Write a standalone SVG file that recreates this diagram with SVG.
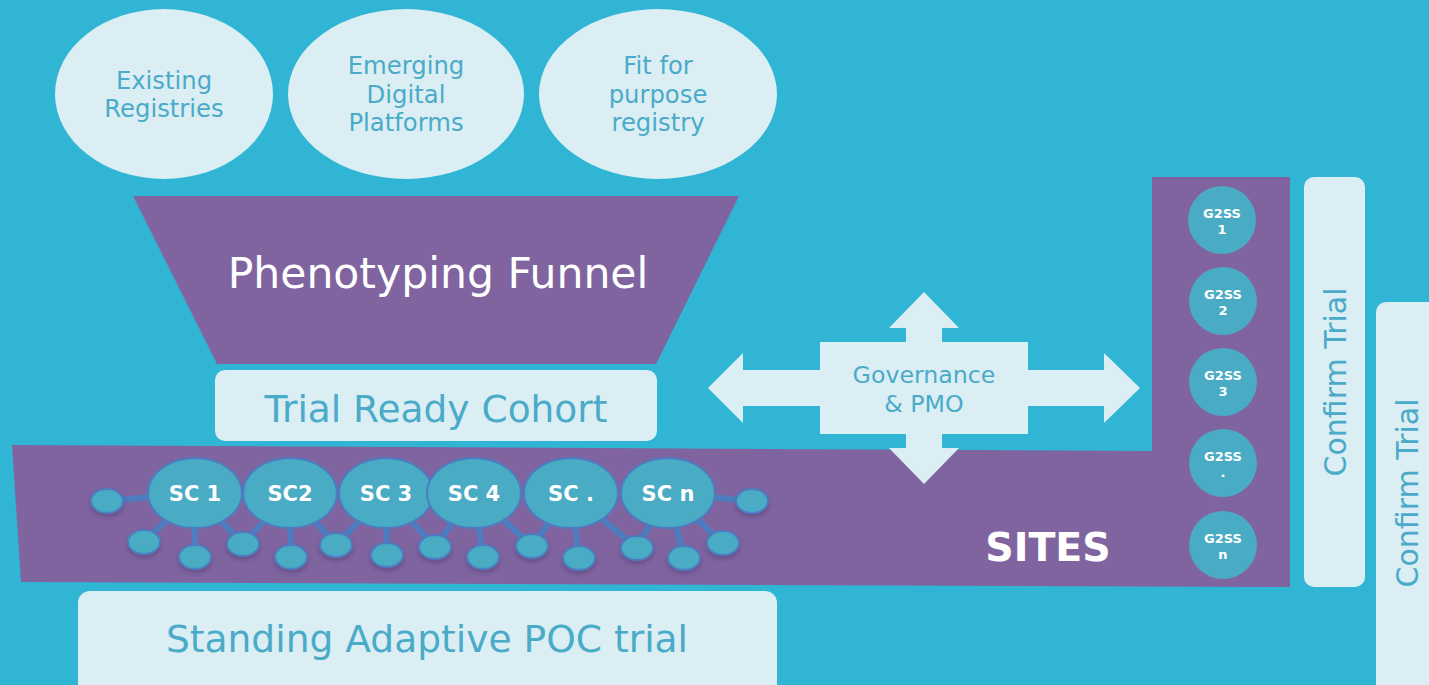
<svg xmlns="http://www.w3.org/2000/svg" width="1429" height="685" viewBox="0 0 1429 685">
<style>
.bg{fill:#30b5d4}
.lt{fill:#dbeef4}
.pu{fill:#7f64a0}
.tl{fill:#4aabc8;font-family:"DejaVu Sans","Liberation Sans",sans-serif;text-anchor:middle}
.tw{fill:#ffffff;font-family:"DejaVu Sans","Liberation Sans",sans-serif;text-anchor:middle}
.b{font-weight:bold}
.sc{fill:#4aabc4;stroke:#4d7cc0;stroke-width:2}
.sm{fill:#4aabc4;stroke:#4d7cc0;stroke-width:2}
.ln{stroke:#4d7cc0;stroke-width:6;fill:none}
.g2{fill:#4aabc4}
</style>
<defs>
<filter id="sh" x="-20%" y="-20%" width="140%" height="160%">
<feDropShadow dx="0" dy="3" stdDeviation="2" flood-color="#3a2a60" flood-opacity="0.35"/>
</filter>
</defs>
<rect class="bg" x="0" y="0" width="1429" height="685"/>

<g id="existing-registries">
<ellipse class="lt" cx="164" cy="94" rx="109" ry="85"/>
<text class="tl" font-size="24.3"><tspan x="164" y="89">Existing</tspan><tspan x="164" y="117">Registries</tspan></text>
</g>
<g id="emerging-platforms">
<ellipse class="lt" cx="406" cy="94" rx="118" ry="85"/>
<text class="tl" font-size="24.3"><tspan x="406" y="74">Emerging</tspan><tspan x="406" y="103">Digital</tspan><tspan x="406" y="131">Platforms</tspan></text>
</g>
<g id="fit-for-purpose">
<ellipse class="lt" cx="658" cy="94" rx="119" ry="85"/>
<text class="tl" font-size="24.3"><tspan x="658" y="74">Fit for</tspan><tspan x="658" y="103">purpose</tspan><tspan x="658" y="131">registry</tspan></text>
</g>

<g id="phenotyping-funnel">
<polygon class="pu" points="133,196 739,196 656,364 217,364"/>
<text class="tw" font-size="42.5" x="438" y="288">Phenotyping Funnel</text>
</g>

<g id="trial-ready-cohort">
<rect class="lt" x="215" y="370" width="442" height="71" rx="10"/>
<text class="tl" font-size="37.5" x="436" y="422">Trial Ready Cohort</text>
</g>

<g id="sites">
<polygon class="pu" points="12,445 1152,451 1152,177 1290,177 1290,587 21,582"/>
<text class="tw b" font-size="39.5" x="1048" y="561">SITES</text>
</g>

<g id="governance">
<polygon class="lt" points="708,388 743,353 743,370 820,370 820,342 906,342 906,328 889,328 924,292 959,328 942,328 942,342 1028,342 1028,370 1104,370 1104,353 1140,388 1104,423 1104,406 1028,406 1028,434 942,434 942,448 959,448 924,484 889,448 906,448 906,434 820,434 820,406 743,406 743,423"/>
<text class="tl" font-size="23.7"><tspan x="924" y="383">Governance</tspan><tspan x="924" y="412">&amp; PMO</tspan></text>
</g>

<g id="connectors">
<line class="ln" x1="195" y1="493" x2="107" y2="501"/>
<line class="ln" x1="195" y1="493" x2="144" y2="542"/>
<line class="ln" x1="195" y1="493" x2="195" y2="557"/>
<line class="ln" x1="195" y1="493" x2="243" y2="544"/>
<line class="ln" x1="290" y1="493" x2="243" y2="544"/>
<line class="ln" x1="290" y1="493" x2="291" y2="557"/>
<line class="ln" x1="290" y1="493" x2="336" y2="545"/>
<line class="ln" x1="386" y1="493" x2="336" y2="545"/>
<line class="ln" x1="386" y1="493" x2="387" y2="555"/>
<line class="ln" x1="386" y1="493" x2="435" y2="547"/>
<line class="ln" x1="474" y1="493" x2="435" y2="547"/>
<line class="ln" x1="474" y1="493" x2="483" y2="557"/>
<line class="ln" x1="474" y1="493" x2="532" y2="546"/>
<line class="ln" x1="571" y1="493" x2="532" y2="546"/>
<line class="ln" x1="571" y1="493" x2="579" y2="558"/>
<line class="ln" x1="571" y1="493" x2="637" y2="548"/>
<line class="ln" x1="668" y1="493" x2="637" y2="548"/>
<line class="ln" x1="668" y1="493" x2="684" y2="558"/>
<line class="ln" x1="668" y1="493" x2="723" y2="543"/>
<line class="ln" x1="668" y1="493" x2="752" y2="501"/>
</g>

<g id="site-nodes" filter="url(#sh)">
<ellipse class="sm" cx="107" cy="501" rx="16" ry="12"/>
<ellipse class="sm" cx="144" cy="542" rx="16" ry="12"/>
<ellipse class="sm" cx="195" cy="557" rx="16" ry="12"/>
<ellipse class="sm" cx="243" cy="544" rx="16" ry="12"/>
<ellipse class="sm" cx="291" cy="557" rx="16" ry="12"/>
<ellipse class="sm" cx="336" cy="545" rx="16" ry="12"/>
<ellipse class="sm" cx="387" cy="555" rx="16" ry="12"/>
<ellipse class="sm" cx="435" cy="547" rx="16" ry="12"/>
<ellipse class="sm" cx="483" cy="557" rx="16" ry="12"/>
<ellipse class="sm" cx="532" cy="546" rx="16" ry="12"/>
<ellipse class="sm" cx="579" cy="558" rx="16" ry="12"/>
<ellipse class="sm" cx="637" cy="548" rx="16" ry="12"/>
<ellipse class="sm" cx="684" cy="558" rx="16" ry="12"/>
<ellipse class="sm" cx="723" cy="543" rx="16" ry="12"/>
<ellipse class="sm" cx="752" cy="501" rx="16" ry="12"/>
</g>

<g id="sc1"><ellipse class="sc" cx="195" cy="493" rx="47" ry="35"/><text class="tw b" font-size="21" x="195" y="501">SC 1</text></g>
<g id="sc2"><ellipse class="sc" cx="290" cy="493" rx="47" ry="35"/><text class="tw b" font-size="21" x="290" y="501">SC2</text></g>
<g id="sc3"><ellipse class="sc" cx="386" cy="493" rx="47" ry="35"/><text class="tw b" font-size="21" x="386" y="501">SC 3</text></g>
<g id="sc4"><ellipse class="sc" cx="474" cy="493" rx="47" ry="35"/><text class="tw b" font-size="21" x="474" y="501">SC 4</text></g>
<g id="sc-dot"><ellipse class="sc" cx="571" cy="493" rx="47" ry="35"/><text class="tw b" font-size="21" x="571" y="501">SC .</text></g>
<g id="scn"><ellipse class="sc" cx="668" cy="493" rx="47" ry="35"/><text class="tw b" font-size="21" x="668" y="501">SC n</text></g>

<g id="g2ss1"><circle class="g2" cx="1222" cy="220" r="34"/><text class="tw b" font-size="13"><tspan x="1222" y="218">G2SS</tspan><tspan x="1222" y="234">1</tspan></text></g>
<g id="g2ss2"><circle class="g2" cx="1223" cy="301" r="34"/><text class="tw b" font-size="13"><tspan x="1223" y="299">G2SS</tspan><tspan x="1223" y="315">2</tspan></text></g>
<g id="g2ss3"><circle class="g2" cx="1223" cy="382" r="34"/><text class="tw b" font-size="13"><tspan x="1223" y="380">G2SS</tspan><tspan x="1223" y="396">3</tspan></text></g>
<g id="g2ss4"><circle class="g2" cx="1223" cy="463" r="34"/><text class="tw b" font-size="13"><tspan x="1223" y="461">G2SS</tspan><tspan x="1223" y="477">.</tspan></text></g>
<g id="g2ssn"><circle class="g2" cx="1223" cy="545" r="34"/><text class="tw b" font-size="13"><tspan x="1223" y="543">G2SS</tspan><tspan x="1223" y="559">n</tspan></text></g>

<g id="confirm-trial-1">
<rect class="lt" x="1304" y="177" width="61" height="410" rx="10"/>
<text class="tl" font-size="30" transform="translate(1346,382) rotate(-90)" x="0" y="0">Confirm Trial</text>
</g>
<g id="confirm-trial-2">
<rect class="lt" x="1376" y="302" width="70" height="400" rx="10"/>
<text class="tl" font-size="30" transform="translate(1418,493) rotate(-90)" x="0" y="0">Confirm Trial</text>
</g>

<g id="standing-adaptive">
<rect class="lt" x="78" y="591" width="699" height="110" rx="12"/>
<text class="tl" font-size="37.6" x="427" y="652">Standing Adaptive POC trial</text>
</g>
</svg>
